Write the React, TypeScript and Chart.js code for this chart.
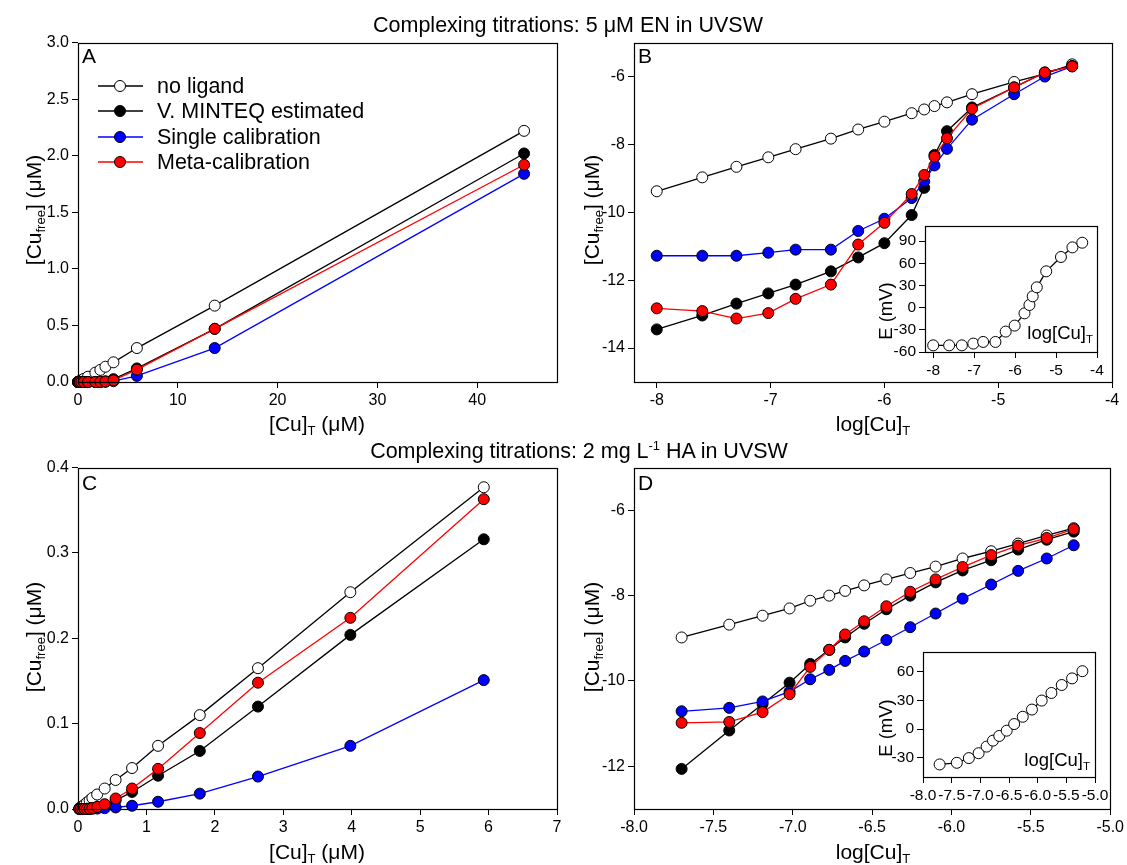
import React, { useEffect, useRef } from "react";
import { Chart, registerables } from "chart.js";
Chart.register(...registerables);

const FONT = 'Arial, "Liberation Sans", Helvetica, sans-serif';

// ---------------- Series names / styles ----------------
const seriesNames = ["no ligand", "V. MINTEQ estimated", "Single calibration", "Meta-calibration"];
const seriesLine = ["#000000", "#000000", "#0000ff", "#ff0000"];
const seriesFill = ["#ffffff", "#000000", "#0000ff", "#ff0000"];

// ---------------- Panel A: 5 µM EN, linear ----------------
const enCuT = [0.01, 0.025, 0.05, 0.095, 0.17, 0.34, 0.59, 1.0, 1.74, 2.24, 2.75, 3.55, 5.9, 13.7, 44.7];
const enFreeNoLigand = [0.0004, 0.001, 0.0022, 0.0042, 0.0072, 0.015, 0.028, 0.047, 0.083, 0.107, 0.135, 0.174, 0.30, 0.675, 2.22];
const enFreeMinteq = [0, 0, 0, 0, 0, 0, 0, 0, 0.0001, 0.0005, 0.0049, 0.025, 0.12, 0.47, 2.02];
const enFreeSingle = [0, 0, 0, 0, 0, 0, 0, 0.0001, 0.0003, 0.0008, 0.0024, 0.0074, 0.054, 0.30, 1.84];
const enFreeMeta = [0, 0, 0, 0, 0, 0, 0, 0.0001, 0.0003, 0.0013, 0.0044, 0.015, 0.11, 0.47, 1.92];

// ---------------- Panel B: 5 µM EN, log ----------------
const enLogCuT = [-8, -7.6, -7.3, -7.02, -6.78, -6.47, -6.23, -6.0, -5.76, -5.65, -5.56, -5.45, -5.23, -4.86, -4.59, -4.35];
const enLogNoLigand = [-9.38, -8.97, -8.66, -8.38, -8.14, -7.83, -7.56, -7.33, -7.08, -6.97, -6.87, -6.76, -6.52, -6.16, -5.92, -5.64];
const enLogMinteq = [-13.45, -13.04, -12.69, -12.39, -12.13, -11.74, -11.33, -10.91, -10.08, -9.28, -8.31, -7.61, -6.91, -6.32, -5.88, -5.69];
const enLogSingle = [-11.28, -11.28, -11.28, -11.19, -11.1, -11.1, -10.55, -10.19, -9.58, -9.09, -8.62, -8.13, -7.27, -6.52, -6.0, -5.7];
const enLogMeta = [-12.83, -12.91, -13.13, -12.97, -12.55, -12.13, -10.95, -10.31, -9.46, -8.9, -8.36, -7.82, -6.95, -6.32, -5.88, -5.7];

// Inset B: electrode potential
const enInsetLogCuT = [-8, -7.61, -7.3, -7.02, -6.78, -6.48, -6.23, -6.01, -5.77, -5.65, -5.57, -5.47, -5.24, -4.88, -4.6, -4.36];
const enInsetE = [-51, -51, -51, -48.6, -46.4, -46.4, -32.4, -24.3, -7.7, 3.6, 15.3, 27.5, 49.1, 68.5, 81.5, 87.8];

// ---------------- Panel C: 2 mg/L HA, linear ----------------
const haCuT = [0.02, 0.04, 0.065, 0.095, 0.13, 0.17, 0.21, 0.28, 0.39, 0.55, 0.79, 1.17, 1.78, 2.63, 3.98, 5.93];
const haFreeNoLigand = [0.001, 0.0021, 0.0034, 0.005, 0.0076, 0.01, 0.013, 0.017, 0.024, 0.034, 0.048, 0.074, 0.11, 0.165, 0.254, 0.377];
const haFreeMinteq = [0, 0, 0, 0.0001, 0.0003, 0.0005, 0.001, 0.0022, 0.0048, 0.01, 0.02, 0.039, 0.068, 0.12, 0.204, 0.316];
const haFreeSingle = [0, 0, 0, 0.0001, 0.0001, 0.0002, 0.0003, 0.0005, 0.0009, 0.0018, 0.0038, 0.0085, 0.018, 0.038, 0.074, 0.151];
const haFreeMeta = [0, 0, 0, 0, 0.0002, 0.0005, 0.0012, 0.0025, 0.0056, 0.0123, 0.024, 0.047, 0.089, 0.148, 0.224, 0.363];

// ---------------- Panel D: 2 mg/L HA, log ----------------
const haLogCuT = [-7.7, -7.4, -7.19, -7.02, -6.89, -6.77, -6.67, -6.55, -6.41, -6.26, -6.1, -5.93, -5.75, -5.58, -5.4, -5.23];
const haLogNoLigand = [-8.98, -8.68, -8.47, -8.3, -8.12, -8.0, -7.89, -7.76, -7.62, -7.47, -7.32, -7.13, -6.96, -6.78, -6.59, -6.42];
const haLogMinteq = [-12.06, -11.16, -10.54, -10.04, -9.6, -9.27, -8.98, -8.66, -8.32, -8.0, -7.69, -7.41, -7.17, -6.92, -6.69, -6.5];
const haLogSingle = [-10.71, -10.63, -10.48, -10.25, -9.96, -9.74, -9.53, -9.31, -9.04, -8.74, -8.42, -8.07, -7.74, -7.42, -7.13, -6.82];
const haLogMeta = [-10.98, -10.96, -10.73, -10.31, -9.67, -9.27, -8.91, -8.6, -8.25, -7.91, -7.62, -7.33, -7.05, -6.83, -6.65, -6.44];

// Inset D
const haInsetLogCuT = [-7.71, -7.41, -7.2, -7.03, -6.89, -6.78, -6.67, -6.54, -6.41, -6.26, -6.1, -5.93, -5.76, -5.58, -5.4, -5.22];
const haInsetE = [-36.9, -35.2, -30.3, -25.2, -18.3, -12.1, -7.2, -1.7, 5.2, 12.8, 20.3, 29.7, 37.6, 45.9, 52.8, 60.3];

// ---------------- Tick values ----------------
const aXTicks = [0, 10, 20, 30, 40];
const aYTicks = [0, 0.5, 1.0, 1.5, 2.0, 2.5, 3.0];
const bXTicks = [-8, -7, -6, -5, -4];
const bYTicks = [-14, -12, -10, -8, -6];
const cXTicks = [0, 1, 2, 3, 4, 5, 6, 7];
const cYTicks = [0, 0.1, 0.2, 0.3, 0.4];
const dXTicks = [-8, -7.5, -7, -6.5, -6, -5.5, -5];
const dYTicks = [-12, -10, -8, -6];
const ibXTicks = [-8, -7, -6, -5, -4];
const ibYTicks = [-60, -30, 0, 30, 60, 90];
const idXTicks = [-8, -7.5, -7, -6.5, -6, -5.5, -5];
const idYTicks = [-30, 0, 30, 60];

function series(xs: number[], ys: number[], i: number, order: number) {
  return {
    label: seriesNames[i],
    data: xs.map((x, k) => ({ x, y: ys[k] })),
    showLine: true,
    borderColor: seriesLine[i],
    borderWidth: 1.3,
    pointRadius: 5.5,
    pointBorderWidth: 1,
    pointBorderColor: "#000",
    pointBackgroundColor: seriesFill[i],
    clip: false as any,
    order,
  };
}

function four(xs: number[], a: number[], b: number[], c: number[], d: number[]) {
  return [series(xs, a, 0, 3), series(xs, b, 1, 2), series(xs, c, 2, 1), series(xs, d, 3, 0)];
}

type Box = { l: number; t: number; r: number; b: number };
type Cv = { left: number; top: number; width: number; height: number };
type Ax = { min: number; max: number; ticks: number[]; dec: number };

interface PanelProps {
  canvas: Cv;
  plot: Box;
  x: Ax;
  y: Ax;
  datasets: any[];
  tickSize: number;
  legend?: boolean;
  white?: boolean;
}

function Panel(p: PanelProps) {
  const ref = useRef<HTMLCanvasElement>(null);
  useEffect(() => {
    const c = p.canvas;
    const pl = p.plot;
    const yW = pl.l - c.left;
    const xH = c.top + c.height - pl.b;
    const framePlugin = {
      id: "frame",
      beforeDraw(chart: any) {
        if (!p.white) return;
        const a = chart.chartArea;
        const ctx = chart.ctx;
        ctx.save();
        ctx.fillStyle = "#fff";
        ctx.fillRect(a.left, a.top, a.right - a.left, a.bottom - a.top);
        ctx.restore();
      },
      afterDraw(chart: any) {
        const a = chart.chartArea;
        const ctx = chart.ctx;
        ctx.save();
        ctx.strokeStyle = "#000";
        ctx.lineWidth = 1.2;
        ctx.strokeRect(Math.round(a.left) + 0.5, Math.round(a.top) + 0.5, Math.round(a.right - a.left), Math.round(a.bottom - a.top));
        if (p.legend) {
          const rows = [56, 81, 107, 132];
          rows.forEach((ry, i) => {
            ctx.strokeStyle = seriesLine[i];
            ctx.lineWidth = 1.3;
            ctx.beginPath();
            ctx.moveTo(98, ry);
            ctx.lineTo(143, ry);
            ctx.stroke();
            ctx.beginPath();
            ctx.arc(120, ry, 5.5, 0, Math.PI * 2);
            ctx.fillStyle = seriesFill[i];
            ctx.fill();
            ctx.strokeStyle = "#000";
            ctx.lineWidth = 1;
            ctx.stroke();
            ctx.fillStyle = "#000";
            ctx.font = `21.5px ${FONT}`;
            ctx.textBaseline = "middle";
            ctx.textAlign = "left";
            ctx.fillText(seriesNames[i], 157, ry + 1);
          });
        }
        ctx.restore();
      },
    };
    const axis = (ax: Ax, isX: boolean) => ({
      type: "linear" as const,
      min: ax.min,
      max: ax.max,
      afterBuildTicks: (s: any) => {
        s.ticks = ax.ticks.map((v) => ({ value: v }));
      },
      afterFit: (s: any) => {
        if (isX) s.height = xH;
        else s.width = yW;
      },
      grid: { display: true, drawOnChartArea: false, drawTicks: true, tickLength: 6, color: "#000", lineWidth: 1 },
      border: { display: false },
      ticks: {
        autoSkip: false,
        maxRotation: 0,
        padding: 3,
        color: "#000",
        font: { family: FONT, size: p.tickSize },
        callback: (v: any) => Number(v).toFixed(ax.dec),
      },
    });
    const chart = new Chart(ref.current as HTMLCanvasElement, {
      type: "scatter",
      data: { datasets: p.datasets },
      options: {
        animation: false,
        responsive: false,
        maintainAspectRatio: false,
        layout: { padding: { left: 0, bottom: 0, top: pl.t - c.top, right: c.left + c.width - pl.r } },
        plugins: { legend: { display: false }, tooltip: { enabled: false } },
        scales: { x: axis(p.x, true), y: axis(p.y, false) } as any,
      },
      plugins: [framePlugin],
    });
    return () => chart.destroy();
  }, []);
  const c = p.canvas;
  return (
    <canvas
      ref={ref}
      width={c.width}
      height={c.height}
      style={{ position: "absolute", left: c.left, top: c.top, width: c.width, height: c.height }}
    />
  );
}

function T(props: { x: number; y: number; size: number; rot?: boolean; align?: "center" | "left" | "right"; children: any }) {
  const a = props.align || "center";
  const tx = a === "center" ? "-50%" : a === "right" ? "-100%" : "0";
  return (
    <div
      style={{
        position: "absolute",
        left: props.x,
        top: props.y,
        transform: `translate(${tx}, -50%)${props.rot ? " rotate(-90deg)" : ""}`,
        fontFamily: FONT,
        fontSize: props.size,
        lineHeight: 1,
        whiteSpace: "nowrap",
        color: "#000",
      }}
    >
      {props.children}
    </div>
  );
}

const Sub = ({ children }: { children: any }) => (
  <span style={{ fontSize: "0.62em", verticalAlign: "-0.35em", lineHeight: 0 }}>{children}</span>
);
const Sup = ({ children }: { children: any }) => (
  <span style={{ fontSize: "0.6em", verticalAlign: "0.65em", lineHeight: 0 }}>{children}</span>
);

export default function App() {
  const openLine = (xs: number[], ys: number[]) => [series(xs, ys, 0, 0)];
  return (
    <div style={{ position: "absolute", left: 0, top: 0, width: 1127, height: 865, background: "#fff", overflow: "hidden" }}>
      <Panel
        canvas={{ left: 0, top: 30, width: 572, height: 415 }}
        plot={{ l: 78, t: 39, r: 557, b: 382 }}
        x={{ min: 0, max: 48, ticks: aXTicks, dec: 0 }}
        y={{ min: 0, max: 3, ticks: aYTicks, dec: 1 }}
        datasets={four(enCuT, enFreeNoLigand, enFreeMinteq, enFreeSingle, enFreeMeta)}
        tickSize={16}
        legend
      />
      <Panel
        canvas={{ left: 575, top: 30, width: 552, height: 415 }}
        plot={{ l: 634, t: 39, r: 1112, b: 382 }}
        x={{ min: -8.2, max: -4, ticks: bXTicks, dec: 0 }}
        y={{ min: -15, max: -5, ticks: bYTicks, dec: 0 }}
        datasets={four(enLogCuT, enLogNoLigand, enLogMinteq, enLogSingle, enLogMeta)}
        tickSize={16}
      />
      <Panel
        canvas={{ left: 0, top: 455, width: 572, height: 410 }}
        plot={{ l: 78, t: 466, r: 557, b: 809 }}
        x={{ min: 0, max: 7, ticks: cXTicks, dec: 0 }}
        y={{ min: 0, max: 0.4, ticks: cYTicks, dec: 1 }}
        datasets={four(haCuT, haFreeNoLigand, haFreeMinteq, haFreeSingle, haFreeMeta)}
        tickSize={16}
      />
      <Panel
        canvas={{ left: 575, top: 455, width: 552, height: 410 }}
        plot={{ l: 634, t: 466, r: 1112, b: 809 }}
        x={{ min: -8, max: -5, ticks: dXTicks, dec: 1 }}
        y={{ min: -13, max: -5, ticks: dYTicks, dec: 0 }}
        datasets={four(haLogCuT, haLogNoLigand, haLogMinteq, haLogSingle, haLogMeta)}
        tickSize={16}
      />
      <Panel
        canvas={{ left: 870, top: 214, width: 242, height: 170 }}
        plot={{ l: 925, t: 226, r: 1097, b: 352 }}
        x={{ min: -8.2, max: -4, ticks: ibXTicks, dec: 0 }}
        y={{ min: -60, max: 110, ticks: ibYTicks, dec: 0 }}
        datasets={openLine(enInsetLogCuT, enInsetE)}
        tickSize={15.5}
        white
      />
      <Panel
        canvas={{ left: 870, top: 640, width: 242, height: 170 }}
        plot={{ l: 923, t: 652, r: 1095, b: 777 }}
        x={{ min: -8, max: -5, ticks: idXTicks, dec: 1 }}
        y={{ min: -50, max: 80, ticks: idYTicks, dec: 0 }}
        datasets={openLine(haInsetLogCuT, haInsetE)}
        tickSize={15.5}
        white
      />

      <T x={568} y={26} size={21.5}>Complexing titrations: 5 μM EN in UVSW</T>
      <T x={579} y={452} size={21.5}>
        Complexing titrations: 2 mg L<Sup>-1</Sup> HA in UVSW
      </T>

      <T x={82} y={55} size={21} align="left">A</T>
      <T x={638} y={55} size={21} align="left">B</T>
      <T x={82} y={482} size={21} align="left">C</T>
      <T x={638} y={482} size={21} align="left">D</T>

      <T x={317} y={423} size={21}>[Cu]<Sub>T</Sub> (μM)</T>
      <T x={873} y={423} size={21}>log[Cu]<Sub>T</Sub></T>
      <T x={317} y={851} size={21}>[Cu]<Sub>T</Sub> (μM)</T>
      <T x={873} y={851} size={21}>log[Cu]<Sub>T</Sub></T>

      <T x={33} y={210} size={21} rot>[Cu<Sub>free</Sub>] (μM)</T>
      <T x={591} y={210} size={21} rot>[Cu<Sub>free</Sub>] (μM)</T>
      <T x={33} y={637} size={21} rot>[Cu<Sub>free</Sub>] (μM)</T>
      <T x={591} y={637} size={21} rot>[Cu<Sub>free</Sub>] (μM)</T>

      <T x={886} y={311} size={18.5} rot>E (mV)</T>
      <T x={1093} y={333} size={18.5} align="right">log[Cu]<Sub>T</Sub></T>
      <T x={886} y={728} size={18.5} rot>E (mV)</T>
      <T x={1090} y={760} size={18.5} align="right">log[Cu]<Sub>T</Sub></T>
    </div>
  );
}
